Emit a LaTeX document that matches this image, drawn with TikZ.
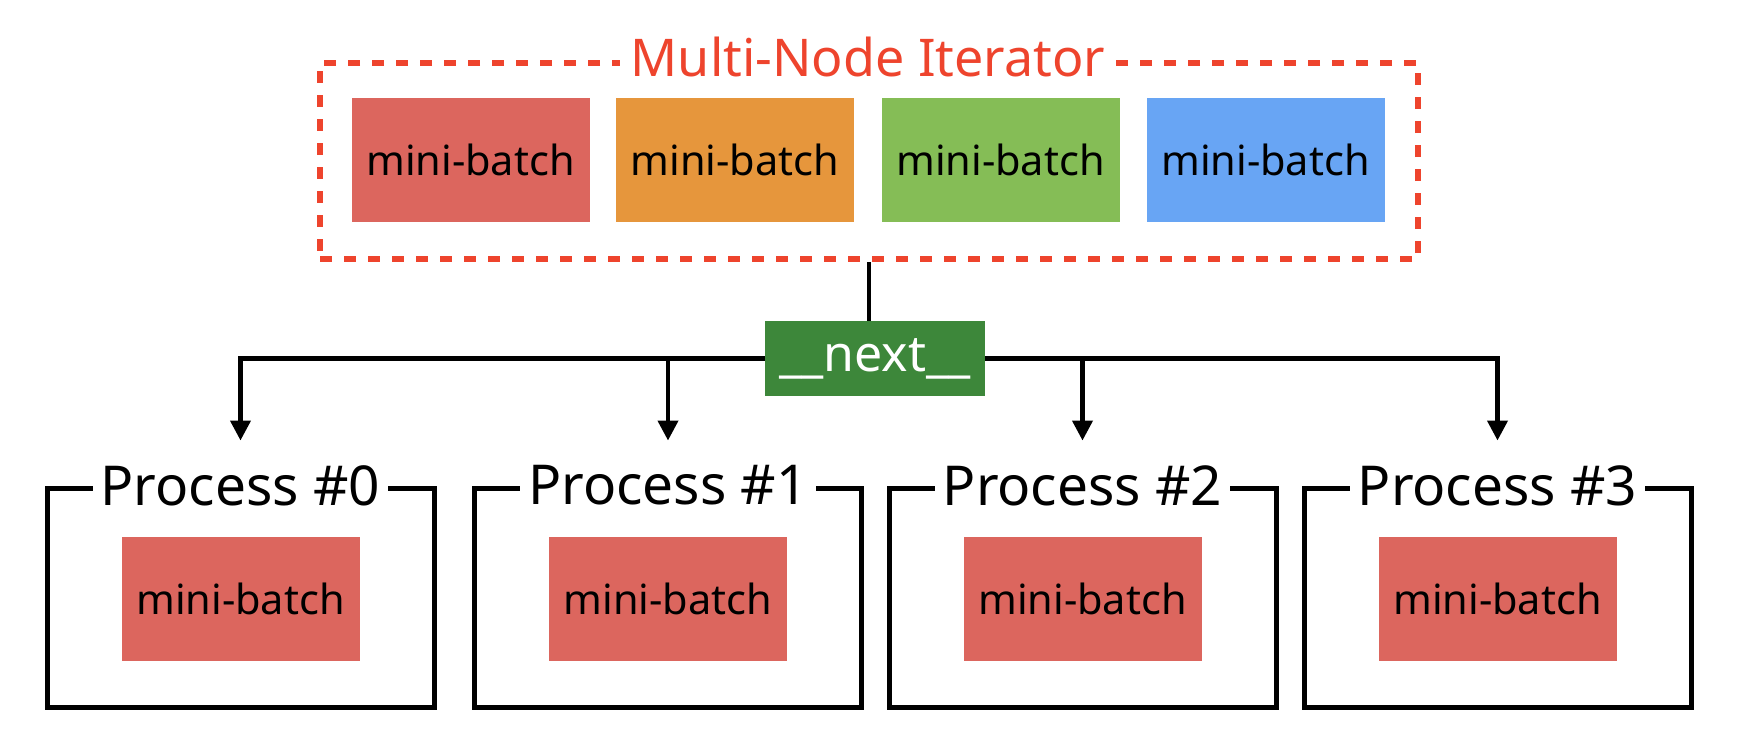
\documentclass[tikz,border=0pt]{standalone}
\usepackage{fontspec}
\setmainfont{Noto Sans}
\usetikzlibrary{arrows.meta,calc}
\definecolor{mbred}{RGB}{220,102,94}
\definecolor{mborange}{RGB}{230,150,60}
\definecolor{mbgreen}{RGB}{133,189,86}
\definecolor{mbblue}{RGB}{104,165,244}
\definecolor{iterred}{RGB}{238,68,45}
\definecolor{nextgreen}{RGB}{61,135,58}
\tikzset{
  mb/.style={minimum width=238pt, minimum height=124pt, inner sep=0pt,
    font=\fontsize{41.5}{48}\selectfont, text=black},
  proc/.style={draw=black, line width=5pt, minimum width=387pt, minimum height=219pt, inner sep=0pt},
  proclabel/.style={fill=white, inner xsep=8pt, inner ysep=0pt, font=\fontsize{55}{60}\selectfont},
  conn/.style={line width=4.2pt, line join=miter},
  arr/.style={conn, -{Triangle[width=20pt,length=20pt]}},
}
\begin{document}
\begin{tikzpicture}[x=1pt,y=-1pt]
\useasboundingbox (0,0) rectangle (1740,745);
% iterator
\node[draw=iterred, line width=6pt, dash pattern=on 12pt off 12pt,
  minimum width=1098pt, minimum height=196pt, inner sep=0pt] (iter) at (869,161) {};
\node[fill=white, inner xsep=11pt, inner ysep=0pt, text=iterred,
  font=\fontsize{52}{60}\selectfont] (title) at (868,57) {Multi-Node Iterator};
\node[mb, fill=mbred] (t0) at (470.5,159.5) {mini-batch};
\node[mb, fill=mborange] (t1) at (735,159.5) {mini-batch};
\node[mb, fill=mbgreen] (t2) at (1000.5,159.5) {mini-batch};
\node[mb, fill=mbblue] (t3) at (1265.5,159.5) {mini-batch};
% next
\node[fill=nextgreen, text=white, minimum width=220pt, minimum height=75pt, inner sep=0pt,
  font=\fontsize{50}{56}\selectfont] (next) at (875,358.5) {\_\_next\_\_};
% processes
\foreach \i/\x in {0/240.5,1/668,2/1082.5,3/1497.5}{
  \node[proc] (p\i) at (\x,597.5) {};
  \node[proclabel] (l\i) at (p\i.north) {Process \#\i};
  \node[mb, fill=mbred] (m\i) at (\x,599) {mini-batch};
  \coordinate (a\i) at ([yshift=45pt]p\i.north);
}
% connectors
\draw[conn] (iter.south) -- (iter.south |- next.north);
\draw[arr] (next.west) -| (a0);
\draw[arr] (a1 |- next.west) -- (a1);
\draw[arr] (next.east) -| (a3);
\draw[arr] (a2 |- next.east) -- (a2);
\end{tikzpicture}
\end{document}
